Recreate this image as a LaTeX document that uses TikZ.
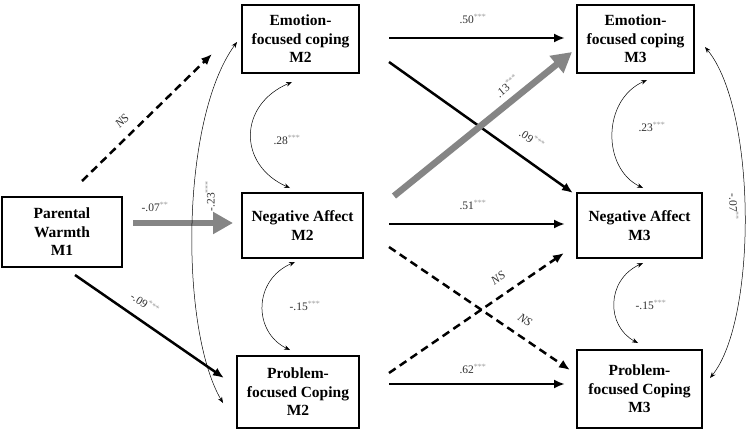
\documentclass[tikz,border=0pt]{standalone}
\usepackage{fontspec}
\setmainfont{Liberation Serif}
\usetikzlibrary{arrows.meta}
\definecolor{arrowgray}{HTML}{858585}
\definecolor{labgray}{HTML}{303030}
\definecolor{stargray}{HTML}{9A9A9A}
\newcommand{\mystars}[1]{\textsuperscript{\color{stargray}#1}}
\tikzset{
  box/.style={draw=black, line width=1.5pt, align=center, inner sep=0pt,
    font=\bfseries\fontsize{15.5}{18.5}\selectfont},
  path/.style={line width=2.5pt, -{Latex[length=11pt,width=9pt]}},
  nspath/.style={path, dash pattern=on 8pt off 5pt},
  bigpath/.style={line width=6.5pt, draw=arrowgray, -{Triangle[length=20pt,width=21pt]}},
  corr/.style={line width=0.5pt, {Stealth[length=6pt,width=4.5pt]}-{Stealth[length=6pt,width=4.5pt]}},
  lab/.style={text=labgray, inner sep=0pt, font=\fontsize{11.5}{13}\selectfont},
  nslab/.style={text=labgray, inner sep=0pt, font=\itshape\fontsize{12}{14}\selectfont}
}
\begin{document}
\begin{tikzpicture}[x=1pt,y=-1pt]
\useasboundingbox[fill=white] (0,0) rectangle (750,431);
% boxes
\node[box, minimum width=120pt, minimum height=70pt] (pw) at (62,232) {Parental\\Warmth\\M1};
\node[box, minimum width=117pt, minimum height=68pt] (e2) at (300.5,39) {Emotion-\\focused coping\\M2};
\node[box, minimum width=121pt, minimum height=65pt] (n2) at (302.5,225.5) {Negative Affect\\M2};
\node[box, minimum width=122pt, minimum height=72pt] (p2) at (298,392) {Problem-\\focused Coping\\M2};
\node[box, minimum width=117pt, minimum height=68pt] (e3) at (635.5,39) {Emotion-\\focused coping\\M3};
\node[box, minimum width=125pt, minimum height=65pt] (n3) at (639.5,225.5) {Negative Affect\\M3};
\node[box, minimum width=125pt, minimum height=78pt] (p3) at (639.5,389) {Problem-\\focused Coping\\M3};
% endpoints
\coordinate (a1) at (82,181); \coordinate (a2) at (212,54);
\coordinate (b1) at (133,223); \coordinate (b2) at (233,223);
\coordinate (c1) at (75,275); \coordinate (c2) at (224,378);
\coordinate (d1) at (389,38); \coordinate (d2) at (565,38);
\coordinate (f1) at (389,62); \coordinate (f2) at (573,193);
\coordinate (g1) at (394,196); \coordinate (g2) at (572,52);
\coordinate (h1) at (389,224); \coordinate (h2) at (565,224);
\coordinate (i1) at (389,247); \coordinate (i2) at (570,370);
\coordinate (j1) at (389,373); \coordinate (j2) at (564,253);
\coordinate (k1) at (389,384); \coordinate (k2) at (565,384);
% paths
\draw[nspath] (a1) -- (a2);
\draw[path] (c1) -- (c2);
\draw[path] (d1) -- (d2);
\draw[path] (f1) -- (f2);
\draw[path] (h1) -- (h2);
\draw[nspath] (i1) -- (i2);
\draw[nspath] (j1) -- (j2);
\draw[path] (k1) -- (k2);
\draw[bigpath] (b1) -- (b2);
\draw[bigpath] (g1) -- (g2);
% correlations
\draw[corr] (237,42) .. controls (180,120) and (180,330) .. (223,403);
\draw[corr] (292,82) .. controls (238,105) and (238,165) .. (290,188);
\draw[corr] (295,262) .. controls (253,280) and (253,332) .. (290,350);
\draw[corr] (647,80) .. controls (602,100) and (602,168) .. (643,188);
\draw[corr] (643,263) .. controls (606,280) and (606,326) .. (638,343);
\draw[corr] (705,47) .. controls (757,110) and (757,320) .. (710,378);
% labels
\node[nslab, rotate=45] (l1) at (122,121) {NS};
\node[lab] (l2) at (155,207) {-.07\mystars{**}};
\node[lab, rotate=-33] (l3) at (145,303) {-.09\mystars{***}};
\node[lab, rotate=90] (l4) at (210,196) {-.23\mystars{***}};
\node[lab] (l5) at (287,140) {.28\mystars{***}};
\node[lab] (l6) at (305,306) {-.15\mystars{***}};
\node[lab] (l7) at (473,19) {.50\mystars{***}};
\node[lab, rotate=39] (l8) at (507,86) {.13\mystars{***}};
\node[lab, rotate=-35] (l9) at (532,139) {.09\mystars{***}};
\node[lab] (l10) at (473,205) {.51\mystars{***}};
\node[nslab, rotate=34] (l11) at (498,278) {NS};
\node[nslab, rotate=-34] (l12) at (525,320) {NS};
\node[lab] (l13) at (473,369) {.62\mystars{***}};
\node[lab] (l14) at (652,127) {.23\mystars{***}};
\node[lab] (l15) at (651,305) {-.15\mystars{***}};
\node[lab, rotate=-90] (l16) at (734,207) {-.07\mystars{**}};
\end{tikzpicture}
\end{document}
